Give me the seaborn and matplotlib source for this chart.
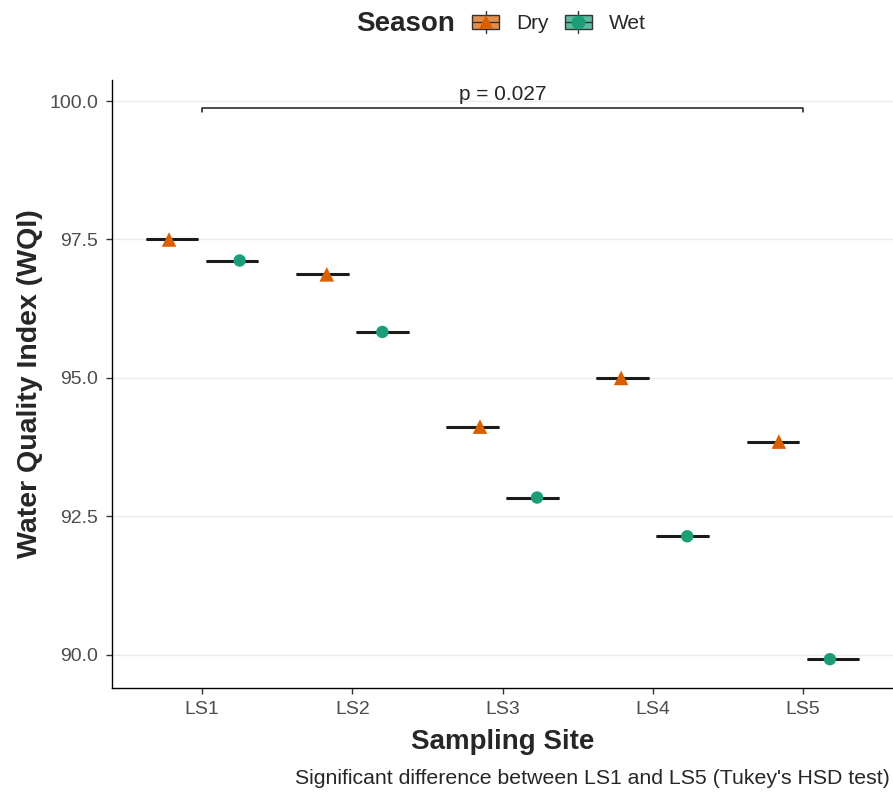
import numpy as np
import pandas as pd
import seaborn as sns
import matplotlib
matplotlib.use('Agg')
import matplotlib.pyplot as plt
from matplotlib.legend_handler import HandlerBase
from matplotlib.patches import Rectangle
from matplotlib.lines import Line2D

# ---- data ----
sites = ['LS1', 'LS2', 'LS3', 'LS4', 'LS5']
seasons = ['Dry', 'Wet']
dry_wqi = [97.50, 96.87, 94.12, 95.00, 93.85]
wet_wqi = [97.12, 95.83, 92.84, 92.14, 89.92]
# horizontal jitter of the points (category units)
dry_jitter = [-0.02, 0.03, 0.05, -0.01, 0.04]
wet_jitter = [0.05, 0.00, 0.03, 0.03, -0.02]
p_label = 'p = 0.027'
caption = "Significant difference between LS1 and LS5 (Tukey's HSD test)"

pal = {'Dry': '#D95F02', 'Wet': '#1B9E77'}
markers = {'Dry': '^', 'Wet': 'o'}
msizes = {'Dry': 110, 'Wet': 80}

df = pd.DataFrame({
    'Site': sites * 2,
    'Season': ['Dry'] * len(sites) + ['Wet'] * len(sites),
    'WQI': dry_wqi + wet_wqi,
    'jitter': dry_jitter + wet_jitter,
})
df['xpos'] = (df['Site'].map({s: i for i, s in enumerate(sites)})
              + df['Season'].map({'Dry': -0.2, 'Wet': 0.2}) + df['jitter'])

sns.set_style('white')
plt.rcParams['font.family'] = ['Liberation Sans', 'DejaVu Sans']

fig = plt.figure(figsize=(8.93, 7.92), dpi=100)
ax = fig.add_axes([112 / 893, 1 - 688 / 792, 781 / 893, 608 / 792])

sns.boxplot(data=df, x='Site', y='WQI', hue='Season', order=sites,
            hue_order=seasons, palette=pal, width=0.8, gap=0.125,
            linecolor='black', linewidth=1.0, showfliers=False,
            medianprops=dict(linewidth=2.2, color='#1a1a1a'),
            legend=False, ax=ax)

sns.scatterplot(data=df, x='xpos', y='WQI', hue='Season', style='Season',
                size='Season', sizes=msizes, hue_order=seasons, palette=pal,
                markers=markers, linewidth=0, legend=False, ax=ax, zorder=4)

# significance bracket
ax.plot([0, 0, 4, 4], [99.80, 99.87, 99.87, 99.80], color='#1a1a1a', lw=1.1)
ax.text(2, 100.02, p_label, ha='center', va='baseline', fontsize=15)

ax.set_xlim(-0.6, 4.6)
ax.set_ylim(89.4, 100.38)
ax.set_xticks(range(len(sites)))
ax.set_xticklabels(sites)
ax.set_yticks([90, 92.5, 95, 97.5, 100])
ax.set_yticklabels(['90.0', '92.5', '95.0', '97.5', '100.0'])
ax.yaxis.grid(True, color='#EBEBEB', lw=1.0)
ax.xaxis.grid(False)
ax.set_axisbelow(True)
for side in ['top', 'right']:
    ax.spines[side].set_visible(False)
for side in ['left', 'bottom']:
    ax.spines[side].set_color('black')
    ax.spines[side].set_linewidth(1.0)
ax.tick_params(axis='both', which='major', length=4, width=1, color='#333333',
               labelcolor='#4D4D4D', labelsize=14, left=True, bottom=True)
ax.tick_params(axis='y', pad=6)
ax.tick_params(axis='x', pad=5)
ax.set_xlabel('Sampling Site', fontsize=20, fontweight='bold', labelpad=8.5)
ax.set_ylabel('Water Quality Index (WQI)', fontsize=20.5, fontweight='bold', labelpad=4.5)


class BoxKey(HandlerBase):
    def __init__(self, season):
        super().__init__()
        self.season = season

    def create_artists(self, legend, orig_handle, xdescent, ydescent,
                       width, height, fontsize, trans):
        x0, y0 = -xdescent, -ydescent
        bh = height * 0.6
        by = y0 + (height - bh) / 2
        col = pal[self.season]
        rect = Rectangle((x0, by), width, bh, facecolor=col, alpha=0.7,
                         edgecolor='none', transform=trans)
        edge = Rectangle((x0, by), width, bh, facecolor='none',
                         edgecolor='#333333', lw=1.0, transform=trans)
        xm, ym = x0 + width / 2, y0 + height / 2
        med = Line2D([x0, x0 + width], [ym, ym], color='#333333', lw=1.0, transform=trans)
        w1 = Line2D([xm, xm], [by + bh, y0 + height], color='#333333', lw=1.0, transform=trans)
        w2 = Line2D([xm, xm], [y0, by], color='#333333', lw=1.0, transform=trans)
        mk = Line2D([xm], [ym], marker=markers[self.season], markersize=10,
                    color=col, markeredgewidth=0, linestyle='none', transform=trans)
        return [rect, edge, med, w1, w2, mk]


handles = [Rectangle((0, 0), 1, 1) for _ in seasons]
fig.legend(handles, seasons, handler_map={h: BoxKey(s) for h, s in zip(handles, seasons)},
           loc='center left', bbox_to_anchor=(472 / 893, 1 - 22 / 792), ncol=2,
           frameon=False, fontsize=15, handlelength=1.3, handleheight=1.3,
           handletextpad=0.8, columnspacing=0.8, borderpad=0, borderaxespad=0)
fig.text(455 / 893, 1 - 24 / 792, 'Season', ha='right', va='center',
         fontsize=20, fontweight='bold')

fig.text(890 / 893, 1 - 779 / 792, caption, ha='right', va='center', fontsize=15.3)

fig.savefig('out.png', dpi=100)
